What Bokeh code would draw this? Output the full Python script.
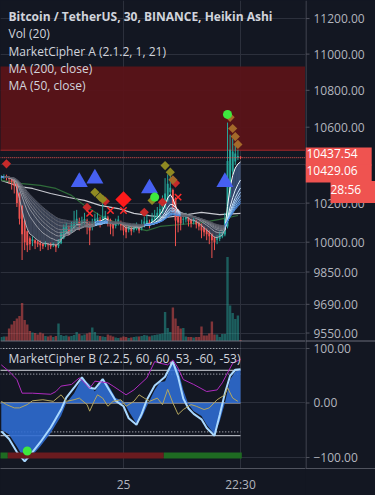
import numpy as np
from bokeh.plotting import figure
from bokeh.layouts import row
from bokeh.models import (Range1d, LinearScale, FixedTicker, Label, Span)
from bokeh.core.properties import value
from bokeh.embed import file_html
from bokeh.resources import INLINE

# ---------------- data ----------------
tick_idx = [47, 92]
tick_labels = ["25", "22:30"]
price_ticks = [9550, 9690, 9850, 10000, 10200, 10400, 10600, 10800, 11000, 11200]
osc_ticks = [-100, 0, 100]

opens = [10330, 10333, 10337, 10333, 10329, 10318, 10300, 10250, 10185, 10110,
         10055, 10020, 10005, 10010, 10003, 9997, 9991, 9985, 9990, 9988,
         9983, 9988, 9980, 9995, 10020, 10048, 10064, 10057, 10073, 10087,
         10103, 10094, 10102, 10110, 10097, 10078, 10089, 10104, 10114, 10107,
         10118, 10126, 10113, 10096, 10083, 10091, 10103, 10094, 10077, 10063,
         10069, 10062, 10071, 10078, 10069, 10079, 10092, 10101, 10095, 10107,
         10118, 10134, 10152, 10176, 10213, 10256, 10268, 10224, 10167, 10133,
         10114, 10117, 10123, 10114, 10104, 10107, 10098, 10089, 10074, 10062,
         10051, 10040, 10025, 10012, 10016, 10028, 10039, 10080, 10250, 10365,
         10418, 10439, 10442]
highs = [10345, 10350, 10348, 10340, 10335, 10325, 10305, 10255, 10190, 10115,
         10060, 10030, 10030, 10015, 10010, 10008, 9995, 10005, 9995, 9998,
         9998, 9992, 10015, 10060, 10090, 10100, 10085, 10105, 10160, 10165,
         10125, 10130, 10150, 10120, 10105, 10120, 10145, 10150, 10130, 10200,
         10160, 10135, 10120, 10100, 10120, 10135, 10110, 10100, 10090, 10090,
         10080, 10095, 10100, 10085, 10115, 10130, 10140, 10115, 10150, 10165,
         10180, 10200, 10240, 10330, 10350, 10345, 10275, 10230, 10170, 10140,
         10140, 10150, 10130, 10120, 10125, 10115, 10105, 10095, 10080, 10070,
         10060, 10045, 10030, 10035, 10055, 10060, 10150, 10625, 10560, 10540,
         10510, 10480, 10445]
lows = [10320, 10325, 10318, 10300, 10270, 10250, 10180, 10090, 9910, 9960,
        9950, 9960, 9980, 9965, 9975, 9955, 9965, 9975, 9960, 9965,
        9975, 9950, 9970, 9990, 10015, 10040, 10035, 10050, 10065, 10080,
        10060, 10080, 10090, 10040, 9985, 10060, 10080, 10095, 10075, 10095,
        10105, 10080, 10040, 10030, 10070, 10085, 10060, 10035, 10020, 10050,
        10035, 10050, 10060, 10045, 10060, 10075, 10085, 10070, 10090, 10100,
        10110, 10125, 10145, 10170, 10205, 10240, 10150, 9980, 10050, 10060,
        10090, 10100, 10080, 10075, 10090, 10070, 10060, 10020, 10030, 10010,
        9990, 9920, 9960, 9990, 10005, 10020, 10030, 10070, 10230, 10350,
        10400, 10425, 10430]
closes = [10335, 10340, 10330, 10325, 10310, 10290, 10200, 10120, 10040, 10000,
          9985, 9990, 10015, 9995, 9990, 9985, 9980, 9995, 9985, 9978,
          9992, 9975, 10010, 10045, 10075, 10080, 10050, 10090, 10100, 10120,
          10085, 10110, 10118, 10085, 10060, 10100, 10120, 10125, 10100, 10130,
          10135, 10100, 10080, 10070, 10100, 10115, 10085, 10060, 10050, 10075,
          10055, 10080, 10085, 10060, 10090, 10105, 10110, 10090, 10120, 10130,
          10150, 10170, 10200, 10250, 10300, 10280, 10180, 10110, 10100, 10095,
          10120, 10130, 10105, 10095, 10110, 10090, 10080, 10060, 10050, 10040,
          10030, 10010, 10000, 10020, 10040, 10050, 10120, 10420, 10480, 10470,
          10460, 10446, 10437.54]
volumes = [80, 90, 90, 250, 330, 400, 450, 500, 760, 420,
           330, 200, 170, 160, 130, 170, 150, 100, 90, 110,
           80, 100, 350, 120, 100, 110, 90, 100, 120, 180,
           140, 110, 130, 150, 170, 270, 180, 110, 100, 90,
           80, 130, 110, 90, 70, 60, 70, 90, 80, 60,
           70, 80, 90, 90, 100, 120, 110, 90, 110, 120,
           130, 140, 150, 580, 260, 180, 670, 450, 300, 250,
           260, 90, 80, 80, 70, 80, 80, 290, 110, 110,
           150, 390, 130, 130, 80, 140, 140, 1680, 710, 560,
           440, 510, 20]

ma200_idx = [0, 7, 12, 19, 26, 32, 38, 45, 51, 57, 63, 69, 77, 84, 92]
ma200 = [10318, 10286, 10276, 10250, 10229, 10214, 10188, 10172, 10147, 10136,
         10126, 10136, 10152, 10141, 10147]
ma50_idx = [0, 7, 15, 21, 27, 32, 38, 44, 50, 56, 61, 69, 77, 84, 91]
ma50 = [10318, 10303, 10292, 10276, 10240, 10188, 10136, 10100, 10075, 10059,
        10080, 10090, 10100, 10116, 10136]
ribbon_lengths = [5, 11, 15, 18, 21, 25, 29, 33]

zone_low, zone_high = 10477, 10931
last_price, second_price, countdown = 10437.54, 10429.06, "28:56"

buy_tri_idx = [30, 36, 57, 86]
buy_tri_px = [10309, 10328, 10276, 10309]
big_red_idx = [47]
big_red_px = [10219]
red_dia_idx = [2, 33, 40, 55, 62, 67]
red_dia_px = [10405, 10178, 10210, 10153, 10205, 10304]
olive_idx = [36, 38, 39, 58, 63, 65]
olive_px = [10256, 10231, 10220, 10214, 10396, 10361]
orange_idx = [66, 88, 89, 90, 91]
orange_px = [10321, 10653, 10593, 10550, 10508]
cross_idx = [34, 42, 47, 68]
cross_px = [10147, 10162, 10162, 10231]
green_dot_idx = [59, 87]
green_dot_px = [10231, 10669]

titles = ["Bitcoin / TetherUS, 30, BINANCE, Heikin Ashi", "Vol (20)",
          "MarketCipher A (2.1.2, 1, 21)", "MA (200, close)", "MA (50, close)"]
title_b = "MarketCipher B (2.2.5, 60, 60, 53, -60, -53)"

# MarketCipher B
wt_idx = [0, 3, 6, 9, 11, 15, 19, 23, 25, 28, 31, 34, 36, 39, 41, 44, 47, 49, 52, 54,
          56, 59, 61, 63, 66, 68, 70, 72, 74, 77, 79, 82, 84, 86, 88, 90, 92]
wt2 = [-49, -58, -80, -104, -101, -80, -55, -24, 0, 18, 46, 34, 21, 43, 34, 9, 3, -15, -38, -27,
       -6, 24, 38, 40, 76, 61, 24, -3, -15, -24, -40, -58, -34, 0, 43, 58, 61]
wt1 = [-52, -66, -90, -107, -96, -72, -45, -12, 10, 28, 47, 28, 26, 44, 28, 4, -6, -28, -40, -20,
       6, 32, 40, 48, 76, 48, 8, -10, -20, -30, -46, -60, -22, 18, 50, 61, 62]
mf_idx = [0, 3, 6, 8, 12, 19, 21, 23, 27, 30, 32, 34, 36, 41, 43, 48, 51, 56, 59, 61,
          64, 66, 68, 70, 74, 79, 83, 85, 87, 89, 92]
mf = [70, 58, 43, 18, 18, 16, 21, 31, 34, 46, 37, 27, 40, 37, 31, 15, 24, 46, 76, 73,
      70, 79, 64, 43, 34, 21, 24, 37, 55, 73, 80]
rsi_idx = [0, 2, 5, 7, 10, 12, 16, 20, 23, 25, 28, 30, 33, 34, 36, 37, 39, 41, 43, 46,
           48, 51, 53, 55, 57, 60, 62, 64, 66, 68, 70, 73, 75, 78, 80, 83, 86, 87, 89, 91]
rsi = [3, -3, -9, -9, -3, 4, 6, 3, 15, 3, 6, 9, -3, -15, 6, 15, 9, -6, 3, 6,
       -6, 3, 15, 9, 3, 9, -3, 25, 0, -21, -12, -3, -6, -12, -9, 6, 15, 28, 9, 3]
solid_levels = [60, 0, -60]
dotted_levels = [100, 53, -53]
bar_start = [0, 3, 63]
bar_end = [2, 62, 92]
bar_state = ["up", "down", "up"]
b_dot_idx = [10]
b_dot_val = [-88]

# ---------------- style ----------------
BG = "#131722"
GRID = "#2c303c"
TXT = "#b2b5be"
AXC = "#50535e"
UP, DN = "#26a69a", "#ef5350"
FONT = "Open Sans"
H, BB = 495, 27
FH = H - BB
MAIN_W, AX_W = 305, 70

n = len(closes)
idx = np.arange(n)
o = np.array(opens, float); c = np.array(closes, float)
h = np.array(highs, float); l = np.array(lows, float)
up = c >= o
col = np.where(up, UP, DN)

price_rng = Range1d(8916.4, 11303)
vol_rng = Range1d(-2550, 6810)
osc_rng = Range1d(-120.2, 738.5)

def make_fig(width, xr):
    f = figure(width=width, height=H, x_range=xr, y_range=price_rng, y_axis_type="log",
               y_axis_location=None, output_backend="svg", toolbar_location=None,
               min_border_left=0, min_border_top=0, min_border_bottom=BB, min_border_right=0,
               background_fill_color=BG, border_fill_color=BG, outline_line_color=None)
    f.extra_y_ranges = {"vol": vol_rng, "osc": osc_rng}
    f.extra_y_scales = {"vol": LinearScale(), "osc": LinearScale()}
    xa = f.xaxis[0]
    xa.axis_line_color = AXC
    xa.major_tick_line_color = None
    xa.minor_tick_line_color = None
    xa.major_tick_out = 0
    xa.major_tick_in = 0
    xa.minor_tick_out = 0
    xa.minor_tick_in = 0
    xa.major_label_standoff = 7
    xa.major_label_text_color = TXT
    xa.major_label_text_font = FONT
    xa.major_label_text_font_size = "12px"
    return f

# oscillator grid positions expressed on the price (log) scale
lp0, lp1 = np.log(price_rng.start), np.log(price_rng.end)
def osc_to_price(v):
    fr = (v - osc_rng.start) / (osc_rng.end - osc_rng.start)
    return float(np.exp(lp0 + fr * (lp1 - lp0)))

# ================= main chart =================
p = make_fig(MAIN_W, Range1d(-0.3, 117))
p.ygrid.ticker = FixedTicker(ticks=price_ticks + [osc_to_price(v) for v in osc_ticks])
xt = FixedTicker(ticks=tick_idx)
p.xaxis.ticker = xt
p.xgrid.ticker = xt
p.xaxis.major_label_overrides = dict(zip(tick_idx, tick_labels))
for g in (p.xgrid, p.ygrid):
    g.grid_line_color = GRID

# red zone
p.quad(left=-5, right=200, bottom=zone_low, top=zone_high, fill_color="#5a1318",
       fill_alpha=0.95, line_color=None)
p.segment(x0=-5, x1=200, y0=zone_low, y1=zone_low, line_color="#a0262a", line_width=1)

# volume
p.vbar(x=idx, width=0.92, top=volumes, bottom=0, y_range_name="vol",
       fill_color=col, fill_alpha=0.5, line_color=None)
p.add_layout(Span(location=0, dimension="width", y_range_name="vol",
                  line_color="#6a6d78", line_width=1))

# EMA ribbon (MarketCipher A)
emas = []
for L in ribbon_lengths:
    a = 2.0 / (L + 1)
    e = np.empty(n)
    e[0] = c[0]
    for k in range(1, n):
        e[k] = a * c[k] + (1 - a) * e[k - 1]
    emas.append(e)
emas = np.array(emas)
lo = emas.min(axis=0); hi = emas.max(axis=0)
bull = emas[0] >= emas[-1]
bull_cols = ["#ffffff", "#e3f2fd", "#c5e1fb", "#a6cff7", "#88bdf2", "#6aa9ec", "#5596e4", "#4383da"]
bear_cols = ["#a9acb5", "#999ca6", "#8b8e98", "#7e818b", "#72757f", "#676a74", "#5d606a", "#535661"]
pxs, pys, pcol = [], [], []
for k in range(n - 1):
    pxs.append([k, k + 1, k + 1, k])
    pys.append([lo[k], lo[k + 1], hi[k + 1], hi[k]])
    pcol.append("#5a7fc0" if bull[k + 1] else "#66718c")
p.patches(xs=pxs, ys=pys, fill_color=pcol, fill_alpha=0.5, line_color=None)

# MAs
p.line(ma200_idx, ma200, line_color="#c8cad1", line_width=1.2)
p.line(ma50_idx, ma50, line_color="#2f6b3a", line_width=1.2)

# candles
p.segment(x0=idx, x1=idx, y0=l, y1=h, line_color=col, line_width=1)
p.vbar(x=idx, width=0.72, top=np.maximum(o, c), bottom=np.minimum(o, c),
       fill_color=col, line_color=None)

# ribbon lines
sx0, sx1, sy0, sy1, scol = [], [], [], [], []
for j in range(len(ribbon_lengths)):
    for k in range(n - 1):
        sx0.append(k); sx1.append(k + 1)
        sy0.append(emas[j][k]); sy1.append(emas[j][k + 1])
        scol.append(bull_cols[j] if bull[k + 1] else bear_cols[j])
p.segment(x0=sx0, x1=sx1, y0=sy0, y1=sy1, line_color=scol, line_width=1)

# price line
p.segment(x0=-5, x1=200, y0=last_price, y1=last_price, line_color=DN,
          line_width=1, line_dash="1 1")

# signals
p.scatter(buy_tri_idx, buy_tri_px, marker="triangle", size=17, fill_color="#4660f2",
          line_color=None)
p.scatter(red_dia_idx, red_dia_px, marker="square", angle=np.pi / 4, size=6.5,
          fill_color="#c62a2a", line_color=None)
p.scatter(olive_idx, olive_px, marker="square", angle=np.pi / 4, size=6.5,
          fill_color="#8f8a22", line_color=None)
p.scatter(orange_idx, orange_px, marker="square", angle=np.pi / 4, size=6.5,
          fill_color="#a4692a", line_color=None)
p.scatter(big_red_idx, big_red_px, marker="square", angle=np.pi / 4, size=11.5,
          fill_color="#ff1a1a", line_color=None)
p.scatter(cross_idx, cross_px, marker="x", size=9, line_color="#ff2a2a", line_width=1.5)
p.scatter(green_dot_idx, green_dot_px, marker="circle", size=9, fill_color="#3ee83e",
          line_color=None)

# MarketCipher B pane
p.segment(x0=-5, x1=92, y0=dotted_levels, y1=dotted_levels, line_color="#d1d4dc",
          line_width=1, line_dash="1 2", y_range_name="osc")
p.segment(x0=-5, x1=92, y0=solid_levels, y1=solid_levels, line_color="#d1d4dc",
          line_width=1, y_range_name="osc")
p.varea(x=wt_idx, y1=0, y2=wt2, fill_color="#2f6cd0", fill_alpha=0.9, y_range_name="osc")
p.line(wt_idx, wt1, line_color="#a9d8ff", line_width=2, y_range_name="osc")
p.line(mf_idx, mf, line_color="#b02cc0", line_width=1, y_range_name="osc")
p.line(rsi_idx, rsi, line_color="#b5a75e", line_width=1, y_range_name="osc")
bl = np.array(bar_start) - 0.5
br = np.array(bar_end) + 0.5
p.quad(left=bl, right=br, bottom=-102, top=-91, y_range_name="osc",
       fill_color=["#1e6b22" if s == "up" else "#6a1b1f" for s in bar_state],
       line_color=None)
p.scatter(b_dot_idx, b_dot_val, marker="circle", size=9, fill_color="#3ee83e",
          line_color=None, y_range_name="osc")

for k, t in enumerate(titles):
    p.add_layout(Label(x=8, y=FH - (16 + 17.3 * k), x_units="screen", y_units="screen",
                       text=t, text_color="#d1d4dc", text_font=FONT, text_font_size="12px",
                       text_font_style="bold" if k == 0 else "normal",
                       text_baseline="middle", text_align="left"))
p.add_layout(Label(x=8, y=FH - 358, x_units="screen", y_units="screen", text=title_b,
                   text_color="#d1d4dc", text_font=FONT, text_font_size="12px",
                   text_baseline="middle", text_align="left"))

# ================= price scale column =================
q = make_fig(AX_W, Range1d(0, AX_W))
q.xgrid.visible = False
q.ygrid.visible = False
q.xaxis.ticker = FixedTicker(ticks=[])
q.add_layout(Span(location=0.5, dimension="height", line_color=AXC, line_width=1))
q.add_layout(Span(location=0, dimension="width", y_range_name="vol",
                  line_color="#6a6d78", line_width=1))
# ticks + labels
q.segment(x0=0, x1=4, y0=price_ticks, y1=price_ticks, line_color=AXC, line_width=1)
q.text(x=8, y=price_ticks, text=[f"{v:.2f}" for v in price_ticks], text_color=TXT,
       text_font=value(FONT), text_font_size="12px", text_baseline="middle",
       text_align="left")
q.segment(x0=0, x1=4, y0=osc_ticks, y1=osc_ticks, line_color=AXC, line_width=1,
          y_range_name="osc")
q.text(x=8, y=osc_ticks, text=[f"{v:.2f}".replace("-", "\u2212") for v in osc_ticks],
       text_color=TXT, text_font=value(FONT), text_font_size="12px",
       text_baseline="middle", text_align="left", y_range_name="osc")
# last-price boxes
for txt, yy, xx, pad in [(f"{last_price:.2f}", 156, 0, (1, 14, 1, 8)),
                         (f"{second_price:.2f}", 173, 0, (1, 14, 1, 8)),
                         (countdown, 191.5, 25, (0, 14, 0, 5))]:
    q.add_layout(Label(x=xx, y=FH - yy, x_units="screen", y_units="screen", text=txt,
                       text_color="#ffffff", text_font=FONT, text_font_size="12px",
                       text_baseline="middle", text_align="left",
                       background_fill_color=DN, padding=pad))

layout = row(p, q, spacing=0, styles={"background-color": BG})
html = file_html(layout, INLINE)
html = html.replace("<body>", f"<body style=\"margin:0;background:{BG}\">")
open("out.html", "w").write(html)
